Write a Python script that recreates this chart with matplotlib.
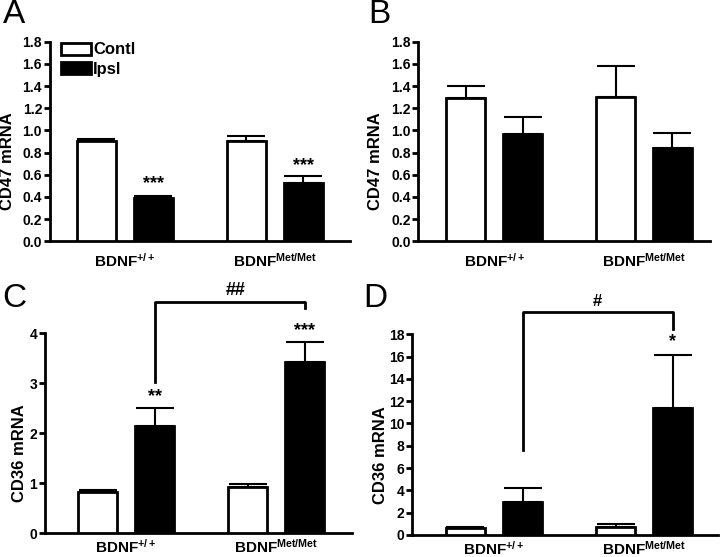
import matplotlib
matplotlib.use("Agg")
import matplotlib.pyplot as plt
import numpy as np

plt.rcParams["font.family"] = ["Liberation Sans", "DejaVu Sans"]
plt.rcParams["font.weight"] = "bold"
plt.rcParams["axes.labelweight"] = "bold"
plt.rcParams["mathtext.fontset"] = "custom"
plt.rcParams["mathtext.rm"] = "Liberation Sans:bold"
plt.rcParams["mathtext.it"] = "Liberation Sans:bold"
plt.rcParams["mathtext.bf"] = "Liberation Sans:bold"
plt.rcParams["mathtext.default"] = "rm"

# datos
grupos = [r"BDNF$^{+/+}$", r"BDNF$^{Met/Met}$"]

cd47_contl_a = [0.905, 0.905]
cd47_contl_a_err = [0.018, 0.04]
cd47_ipsl_a = [0.393, 0.523]
cd47_ipsl_a_err = [0.015, 0.066]

cd47_contl_b = [1.29, 1.305]
cd47_contl_b_err = [0.11, 0.28]
cd47_ipsl_b = [0.967, 0.84]
cd47_ipsl_b_err = [0.15, 0.136]

cd36_contl_c = [0.83, 0.92]
cd36_contl_c_err = [0.04, 0.06]
cd36_ipsl_c = [2.15, 3.43]
cd36_ipsl_c_err = [0.35, 0.4]

cd36_contl_d = [0.6, 0.72]
cd36_contl_d_err = [0.12, 0.28]
cd36_ipsl_d = [2.95, 11.4]
cd36_ipsl_d_err = [1.3, 4.75]

fig = plt.figure(figsize=(7.2, 5.57), dpi=100)

paneles = [
    # letra, pos, xlim, ymax, yticks, ylabel, (x label, x letra, y letra, pad x), datos
    ("A", [0.069, 0.567, 0.417, 0.358], (-0.5, 1.5), 1.8, np.arange(0, 1.81, 0.2), "CD47 mRNA",
     (-0.117, -0.157, 1.215, 8),
     cd47_contl_a, cd47_contl_a_err, cd47_ipsl_a, cd47_ipsl_a_err),
    ("B", [0.581, 0.567, 0.405, 0.358], (-0.507, 1.44), 1.8, np.arange(0, 1.81, 0.2), "CD47 mRNA",
     (-0.12, -0.171, 1.215, 8),
     cd47_contl_b, cd47_contl_b_err, cd47_ipsl_b, cd47_ipsl_b_err),
    ("C", [0.0625, 0.043, 0.4265, 0.359], (-0.54, 1.507), 4, np.arange(0, 5, 1), "CD36 mRNA",
     (-0.059, -0.14, 1.25, 3.5),
     cd36_contl_c, cd36_contl_c_err, cd36_ipsl_c, cd36_ipsl_c_err),
    ("D", [0.572, 0.0395, 0.425, 0.3605], (-0.547, 1.49), 18, np.arange(0, 19, 2), "CD36 mRNA",
     (-0.078, -0.16, 1.255, 3.5),
     cd36_contl_d, cd36_contl_d_err, cd36_ipsl_d, cd36_ipsl_d_err),
]

x = np.arange(len(grupos))
off = 0.19
w = 0.26
ejes = {}

for (letra, pos, xlim, ymax, yticks, ylabel, coords,
     contl, contl_err, ipsl, ipsl_err) in paneles:
    ax = fig.add_axes(pos)
    ejes[letra] = ax
    err_kw = dict(elinewidth=1.5, capthick=1.5, capsize=14, ecolor="black")
    ax.bar(x - off, contl, w, color="white", edgecolor="black", linewidth=2,
           label="Contl", zorder=3)
    ax.errorbar(x - off, contl, yerr=[np.zeros(2), contl_err], fmt="none", zorder=2, **err_kw)
    ax.bar(x + off, ipsl, w, color="black", edgecolor="black", linewidth=2,
           label="Ipsl", zorder=3)
    ax.errorbar(x + off, ipsl, yerr=[np.zeros(2), ipsl_err], fmt="none", zorder=2, **err_kw)

    ax.set_xlim(*xlim)
    ax.set_ylim(0, ymax)
    ax.set_yticks(yticks)
    if ymax == 1.8:
        ax.set_yticklabels([f"{t:.1f}" for t in yticks])
    else:
        ax.set_yticklabels([f"{t:g}" for t in yticks])
    ax.set_xticks(x)
    ax.set_xticklabels(grupos, fontsize=11)
    ax.set_ylabel(ylabel, fontsize=12)
    ax.yaxis.set_label_coords(coords[0], 0.4)
    for s in ["top", "right"]:
        ax.spines[s].set_visible(False)
    for s in ["left", "bottom"]:
        ax.spines[s].set_linewidth(2)
    ax.tick_params(axis="y", width=2, length=4, labelsize=10, pad=1.5)
    ax.tick_params(axis="x", length=0, labelsize=11, pad=coords[3])
    ax.text(coords[1], coords[2], letra, transform=ax.transAxes, fontsize=24,
            fontweight="normal", va="top", ha="left")

# leyenda panel A
leg = ejes["A"].legend(loc="upper left", bbox_to_anchor=(0.015, 1.03), frameon=False,
                       fontsize=12, handlelength=1.8, handleheight=0.75,
                       handletextpad=0.15, labelspacing=0.25, borderaxespad=0)

# asteriscos y corchetes
ax = ejes["A"]
ax.text(x[0] + off, 0.44, "***", ha="center", va="bottom", fontsize=13)
ax.text(x[1] + off, 0.61, "***", ha="center", va="bottom", fontsize=13)

ax = ejes["C"]
ax.text(x[0] + off, 2.55, "**", ha="center", va="bottom", fontsize=13)
ax.text(x[1] + off, 3.87, "***", ha="center", va="bottom", fontsize=13)
ax.plot([x[0] + off, x[0] + off, x[1] + off, x[1] + off], [3.03, 4.63, 4.63, 4.5],
        color="black", lw=2, clip_on=False)
ax.text(0.73, 4.68, "##", ha="center", va="bottom", fontsize=13)

ax = ejes["D"]
ax.text(x[1] + off, 16.6, "*", ha="center", va="bottom", fontsize=13)
ax.plot([x[0] + off, x[0] + off, x[1] + off, x[1] + off], [7.6, 20.0, 20.0, 18.5],
        color="black", lw=2, clip_on=False)
ax.text(0.69, 20.3, "#", ha="center", va="bottom", fontsize=12)

fig.savefig("out.png", dpi=100)
